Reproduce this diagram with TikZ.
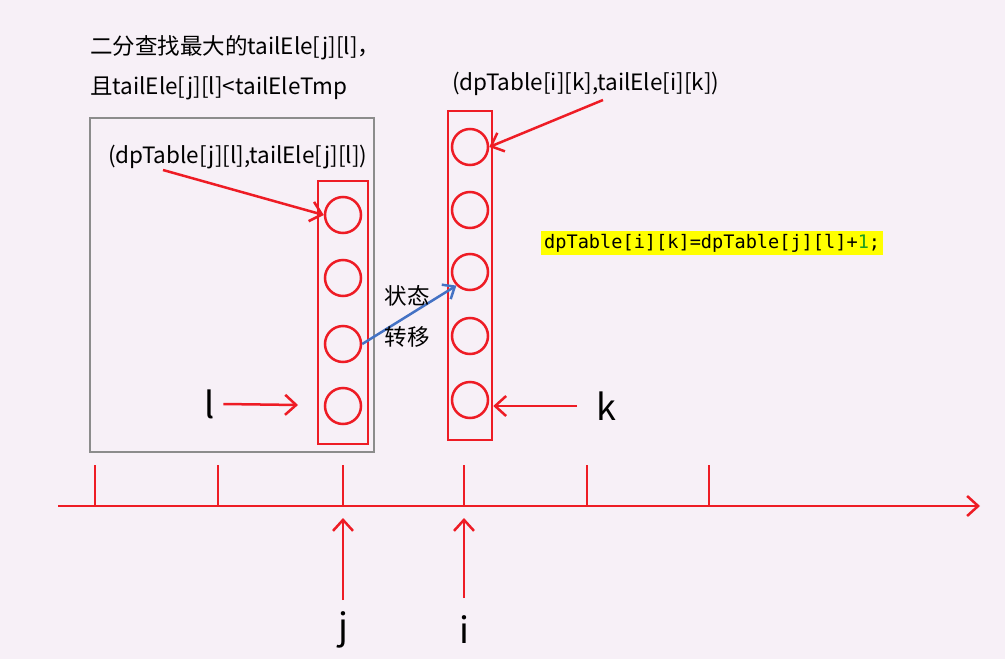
\documentclass[tikz,border=0pt]{standalone}
\usepackage{fontspec}
\setmainfont{Noto Sans CJK SC}
\newfontfamily\codefont{DejaVu Sans Mono}
\usetikzlibrary{arrows.meta}
\definecolor{lineRed}{HTML}{EE1C25}
\definecolor{boxGray}{HTML}{8C8C8C}
\definecolor{moveBlue}{HTML}{4472C4}
\definecolor{codeYellow}{HTML}{FFFF00}
\definecolor{numGreen}{HTML}{1E9E1E}
\definecolor{paper}{HTML}{F7F0F7}
\begin{document}
\begin{tikzpicture}[x=1pt,y=-1pt]
			\tikzset{cell/.style={circle,draw=lineRed,line width=2.5pt,minimum size=36pt,inner sep=0pt}}
			\tikzset{column/.style={rectangle,draw=lineRed,line width=2.5pt,inner sep=0pt}}
			\tikzset{redarrow/.style={draw=lineRed,line width=2.5pt,-{Straight Barb[length=11pt,width=20pt,line width=2.5pt]}}}
			\tikzset{txt/.style={inner sep=0pt,font=\fontsize{22.5}{26}\selectfont}}
			\tikzset{letter/.style={inner sep=0pt,font=\fontsize{36}{40}\selectfont}}
			\fill[paper] (0,0) rectangle (1005,659);
			\useasboundingbox (0,0) rectangle (1005,659);
			% search region
			\node[rectangle,draw=boxGray,line width=2.5pt,minimum width=284pt,minimum height=334pt] (region) at (232,285) {};
			\node[txt,anchor=west] (title1) at (90,48) {二分查找最大的tailEle[j][l]，};
			\node[txt,anchor=west] (title2) at (90,88) {且tailEle[j][l]<tailEleTmp};
			% columns
			\node[column,minimum width=50pt,minimum height=263pt] (colj) at (343,312.5) {};
			\node[column,minimum width=44pt,minimum height=329pt] (coli) at (470,275.5) {};
			\foreach \n/\y in {1/215,2/278,3/344,4/406}
				\node[cell] (l\n) at (343,\y) {};
			\foreach \n/\y in {1/147,2/210,3/272,4/336,5/400}
				\node[cell] (k\n) at (470,\y) {};
			% labels of the cells
			\node[txt,anchor=west] (pairj) at (108,157) {(dpTable[j][l],tailEle[j][l])};
			\node[txt,anchor=west] (pairi) at (452,84) {(dpTable[i][k],tailEle[i][k])};
			\coordinate (pairjend) at (163,170);
			\coordinate (pairiend) at (603,100);
			\draw[redarrow] (pairjend) -- (l1.west);
			\draw[redarrow] (pairiend) -- (k1.east);
			% state transition
			\draw[draw=moveBlue,line width=2.5pt,-{Straight Barb[length=10pt,width=17pt,line width=2.5pt]}] (l3.east) -- (k3.south west);
			\node[txt] (move1) at (407,296) {状态};
			\node[txt] (move2) at (407,337) {转移};
			\node[fill=codeYellow,inner xsep=3pt,inner ysep=3pt,anchor=west,font=\codefont\fontsize{18.6}{22}\selectfont] (code) at (541,243)
				{dpTable[i][k]=dpTable[j][l]+\textcolor{numGreen}{1};};
			% l and k
			\node[letter] (lname) at (210,404) {l};
			\node[letter] (kname) at (606,406) {k};
			\draw[redarrow] (lname.east) ++(8,0) coordinate (ls) -- (298,405) coordinate (le);
			\draw[redarrow] (577,406) coordinate (ks) -- (coli.east |- ks);
			% axis
			\coordinate (axisstart) at (58,506);
			\coordinate (axisend) at (980,506);
			\draw[redarrow] (axisstart) -- (axisend);
			\foreach \n/\x in {1/95,2/218,3/343,4/464,5/587,6/709} {
				\coordinate (top\n) at (\x,465);
				\draw[draw=lineRed,line width=2pt] (top\n) -- (\x,506);
			}
			\node[letter] (jname) at (343,630) {j};
			\node[letter] (iname) at (464,630) {i};
			\coordinate (jstart) at (343,600);
			\coordinate (istart) at (464,598);
			\draw[redarrow] (jstart) -- (343,518);
			\draw[redarrow] (istart) -- (464,518);
		\end{tikzpicture}
\end{document}
